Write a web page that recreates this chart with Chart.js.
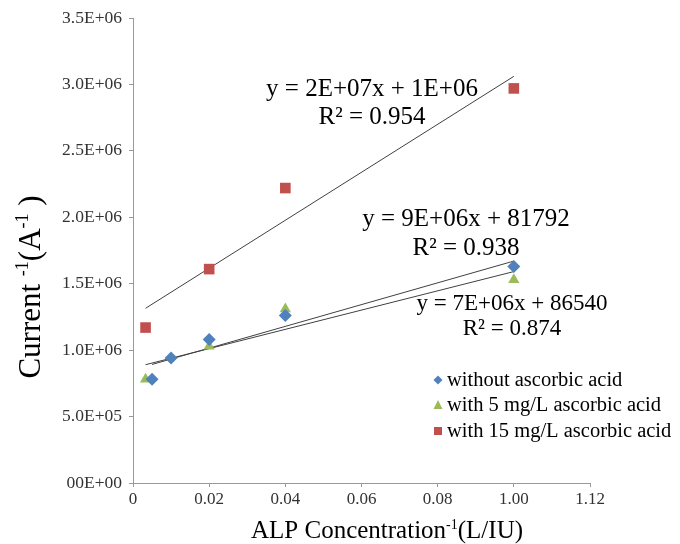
<!DOCTYPE html>
<html><head><meta charset="utf-8">
<script src="https://cdn.jsdelivr.net/npm/chart.js@4"></script>
<style>html,body{margin:0;padding:0;background:#fff}#wrap{width:680px;height:544px}</style>
</head><body><div id="wrap"><canvas id="c" width="680" height="544"></canvas></div>
<script>
const xTickLabels = ["0","0.02","0.04","0.06","0.08","1.00","1.12"];
const yTickLabels = ["00E+00","5.0E+05","1.0E+06","1.5E+06","2.0E+06","2.5E+06","3.0E+06","3.5E+06"];
const seriesNames = ["without ascorbic acid","with 5 mg/L ascorbic acid","with 15 mg/L ascorbic acid"];
const xBlue = [0.005, 0.01, 0.02, 0.04, 0.10];
const yBlue = [7.8e5, 9.4e5, 1.08e6, 1.26e6, 1.63e6];
const xGreen = [0.0033, 0.02, 0.04, 0.10];
const yGreen = [7.8e5, 1.03e6, 1.31e6, 1.53e6];
const xRed = [0.0033, 0.02, 0.04, 0.10];
const yRed = [1.17e6, 1.61e6, 2.22e6, 2.97e6];
const eqTexts = [["y = 9E+06x + 81792","R² = 0.938"],["y = 7E+06x + 86540","R² = 0.874"],["y = 2E+07x + 1E+06","R² = 0.954"]];
const yTitleParts = [["Current ",0],["-1",1],["(A",0],["-1",1],[" )",0]];
const xTitleParts = [["ALP Concentration",0],["-1",1],["(L/IU)",0]];

const colors = ["#4F81BD","#9BBB59","#C0504D"];
const styles = ["rectRot","triangle","rect"];
const radii = [6.5,6.5,7.5];

function pts(xs, ys){ return xs.map((x,i)=>({x:x, y:ys[i]})); }
function fit(xs, ys){
  const n = xs.length;
  const mx = xs.reduce((a,b)=>a+b,0)/n, my = ys.reduce((a,b)=>a+b,0)/n;
  let sxy=0, sxx=0;
  for(let i=0;i<n;i++){ sxy+=(xs[i]-mx)*(ys[i]-my); sxx+=(xs[i]-mx)*(xs[i]-mx); }
  const m = sxy/sxx, b = my - m*mx;
  const x0 = Math.min(...xs), x1 = Math.max(...xs);
  return [{x:x0,y:m*x0+b},{x:x1,y:m*x1+b}];
}
const series = [[xBlue,yBlue],[xGreen,yGreen],[xRed,yRed]];
const datasets = [];
series.forEach((s,i)=>{
  datasets.push({type:'line', data: fit(s[0],s[1]), borderColor:'#404040', borderWidth:1, pointRadius:0, fill:false, order:5});
});
series.forEach((s,i)=>{
  datasets.push({type:'scatter', label:seriesNames[i], data: pts(s[0],s[1]), backgroundColor:colors[i], borderColor:colors[i], borderWidth:0, pointStyle:styles[i], pointRadius:radii[i], pointHoverRadius:radii[i], order:1});
});

const serif = "'Liberation Serif','DejaVu Serif',serif";

function drawParts(ctx, parts, size, supSize, cx, cy){
  let total = 0;
  const widths = parts.map(p=>{ ctx.font = (p[1]?supSize:size)+"px "+serif; const w = ctx.measureText(p[0]).width; total += w; return w; });
  let x = cx - total/2;
  ctx.textAlign = 'left';
  ctx.textBaseline = 'alphabetic';
  parts.forEach((p,i)=>{
    ctx.font = (p[1]?supSize:size)+"px "+serif;
    ctx.fillText(p[0], x, p[1] ? cy - size*0.38 : cy);
    x += widths[i];
  });
}

const textPlugin = {
  id:'texts',
  afterDraw(chart){
    const ctx = chart.ctx;
    ctx.save();
    ctx.fillStyle = '#000';
    ctx.textAlign = 'center';
    ctx.textBaseline = 'middle';
    const eqPos = [[466,219,248,25],[512,304,329,23],[372,89,117,25]];
    eqTexts.forEach((t,i)=>{
      const p = eqPos[i];
      ctx.font = p[3]+"px "+serif;
      ctx.fillText(t[0], p[0], p[1]);
      ctx.fillText(t[1], p[0], p[2]);
    });
    // legend
    ctx.textAlign = 'left';
    ctx.font = "20.5px "+serif;
    const ly = [380, 405, 431];
    seriesNames.forEach((name,i)=>{
      ctx.fillStyle = colors[i];
      ctx.beginPath();
      const mx = 438, my = ly[i];
      if(styles[i]==='rectRot'){ ctx.moveTo(mx,my-4.5);ctx.lineTo(mx+4.5,my);ctx.lineTo(mx,my+4.5);ctx.lineTo(mx-4.5,my); }
      else if(styles[i]==='triangle'){ ctx.moveTo(mx,my-5);ctx.lineTo(mx+4.5,my+4);ctx.lineTo(mx-4.5,my+4); }
      else { ctx.rect(mx-4,my-4,8,8); }
      ctx.closePath(); ctx.fill();
      ctx.fillStyle = '#000';
      ctx.fillText(name, 447, my+1);
    });
    // axis titles
    ctx.fillStyle = '#000';
    drawParts(ctx, xTitleParts, 25, 14, 387, 538);
    ctx.save();
    ctx.translate(40, 287);
    ctx.rotate(-Math.PI/2);
    drawParts(ctx, yTitleParts, 31, 18, 0, 0);
    ctx.restore();
    ctx.restore();
  }
};

new Chart(document.getElementById('c'), {
  data:{datasets},
  options:{
    responsive:false, animation:false,
    layout:{padding:{left:0,right:90,top:18,bottom:0}},
    plugins:{legend:{display:false}, tooltip:{enabled:false}},
    scales:{
      x:{type:'linear', min:0, max:0.12,
        afterBuildTicks(s){ s.ticks = xTickLabels.map((l,i)=>({value:i*0.02})); },
        ticks:{callback:(v,i)=>xTickLabels[i], font:{family:serif,size:17}, color:'#333', padding:2, maxRotation:0, autoSkip:false},
        grid:{drawOnChartArea:false, tickLength:4, color:'#999'},
        border:{color:'#999', width:1},
        afterFit(s){ s.height = 61; }
      },
      y:{type:'linear', min:0, max:3.5e6,
        afterBuildTicks(s){ s.ticks = yTickLabels.map((l,i)=>({value:i*5e5})); },
        ticks:{callback:(v,i)=>yTickLabels[i], font:{family:serif,size:17.5}, color:'#333', padding:7, autoSkip:false},
        grid:{drawOnChartArea:false, tickLength:4, color:'#999'},
        border:{color:'#999', width:1},
        afterFit(s){ s.width = 133; }
      }
    }
  },
  plugins:[textPlugin]
});
</script></body></html>
